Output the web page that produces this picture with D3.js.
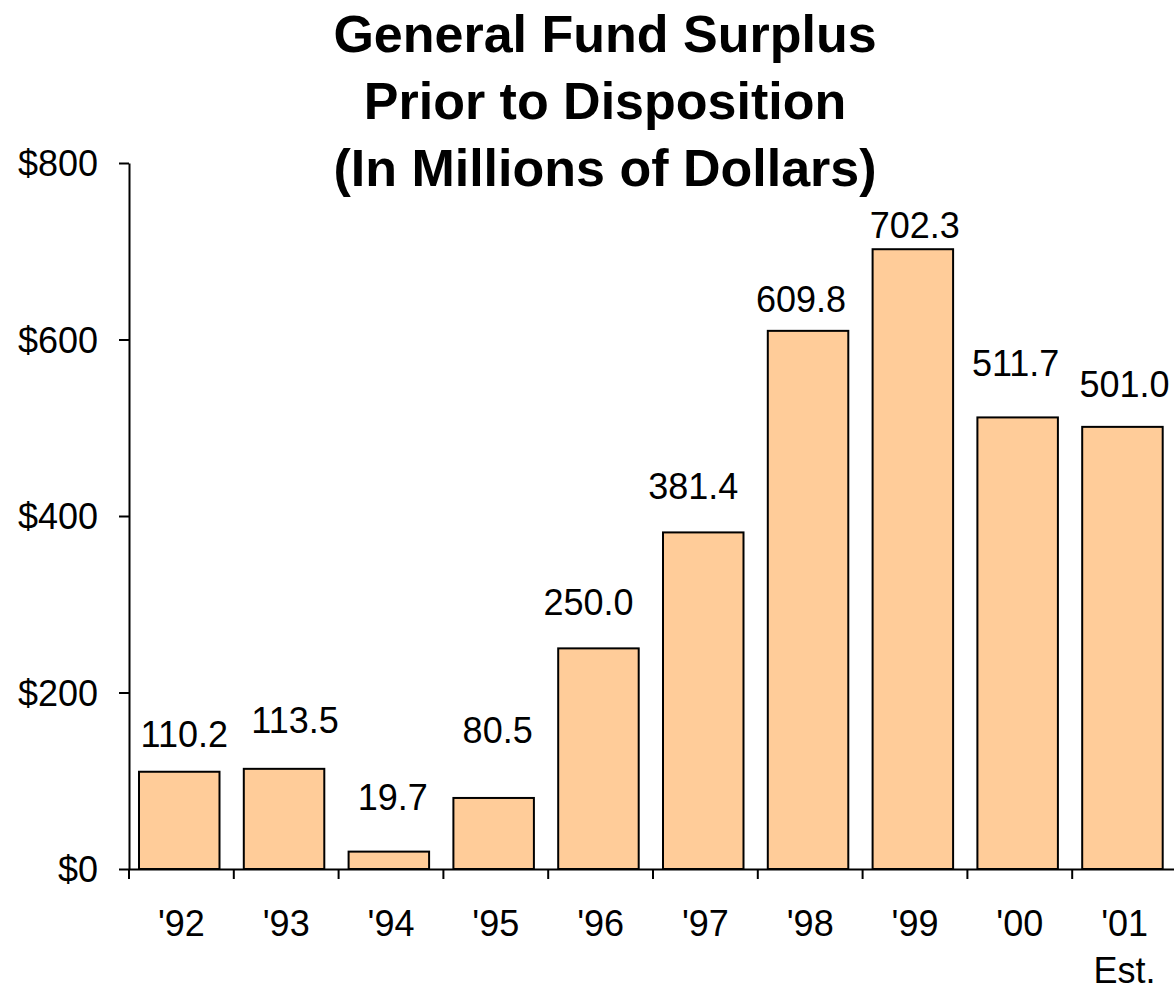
<!DOCTYPE html>
<html>
<head>
<meta charset="utf-8">
<script src="https://cdn.jsdelivr.net/npm/d3@7"></script>
<style>
  html, body { margin: 0; padding: 0; background: #fff; }
  svg { display: block; font-family: Arial, "Liberation Sans", sans-serif; }
</style>
</head>
<body>
<svg id="chart" width="1174" height="990"></svg>
<script>
// Fiscal years and the general fund surplus before disposition ($ millions)
const years = ["'92", "'93", "'94", "'95", "'96", "'97", "'98", "'99", "'00", "'01"];
const surplus = [110.2, 113.5, 19.7, 80.5, 250.0, 381.4, 609.8, 702.3, 511.7, 501.0];
const yearNotes = ["", "", "", "", "", "", "", "", "", "Est."];
const yTicks = [0, 200, 400, 600, 800];
const titleLines = ["General Fund Surplus", "Prior to Disposition", "(In Millions of Dollars)"];

// Hand placement of the value labels: [dx, dy] in pixels from the bar's top centre
const labelShift = [[5, -25], [11, -36], [4, -42], [4, -55], [-10, -33],
                    [-10, -33], [-7, -19], [2, -11], [-2, -41], [2, -30]];

const svg = d3.select("#chart");

const step = 104.8;
const x = d3.scaleBand().domain(years).range([129, 129 + step * years.length]).padding(0);
const y = d3.scaleLinear().domain([0, 800]).range([869, 163]);
const barInset = 10, barWidth = 80.5;

// Title
svg.append("g").selectAll("text")
  .data(titleLines)
  .join("text")
  .attr("x", 605)
  .attr("y", (d, i) => 52 + i * 67)
  .attr("text-anchor", "middle")
  .attr("font-size", 52)
  .attr("font-weight", "bold")
  .attr("fill", "#000")
  .text(d => d);

// Bars
svg.append("g").selectAll("rect")
  .data(surplus)
  .join("rect")
  .attr("x", (d, i) => x(years[i]) + barInset)
  .attr("y", d => y(d))
  .attr("width", barWidth)
  .attr("height", d => y(0) - y(d))
  .attr("fill", "#FFCC99")
  .attr("stroke", "#000")
  .attr("stroke-width", 2);

// Value labels
svg.append("g").selectAll("text")
  .data(surplus)
  .join("text")
  .attr("x", (d, i) => x(years[i]) + barInset + barWidth / 2 + labelShift[i][0])
  .attr("y", (d, i) => y(d) + labelShift[i][1])
  .attr("text-anchor", "middle")
  .attr("font-size", 36)
  .attr("fill", "#000")
  .text(d => d.toFixed(1));

// Y axis
const yAxis = svg.append("g")
  .attr("transform", "translate(129,0)")
  .call(d3.axisLeft(y).tickValues(yTicks).tickSize(10).tickSizeOuter(0)
    .tickPadding(21).tickFormat(d => "$" + d));
yAxis.select(".domain").attr("stroke", "#000").attr("stroke-width", 2);
yAxis.selectAll(".tick line").attr("stroke", "#000").attr("stroke-width", 2);
yAxis.selectAll(".tick text")
  .attr("font-size", 36)
  .attr("font-family", "Arial, 'Liberation Sans', sans-serif")
  .attr("fill", "#000")
  .attr("dy", "0.36em");

// X axis: category labels centred in each band, ticks on band boundaries
const xAxis = svg.append("g")
  .attr("transform", `translate(0,${y(0)})`)
  .call(d3.axisBottom(x).tickSize(0).tickSizeOuter(0).tickPadding(0));
xAxis.select(".domain").attr("stroke", "#000").attr("stroke-width", 2);
xAxis.selectAll(".tick text")
  .attr("font-size", 36)
  .attr("font-family", "Arial, 'Liberation Sans', sans-serif")
  .attr("fill", "#000")
  .attr("y", 0)
  .attr("dy", null)
  .each(function (d, i) {
    const t = d3.select(this).text(null);
    t.append("tspan").attr("x", 0).attr("y", 67).text(d);
    if (yearNotes[i]) t.append("tspan").attr("x", 0).attr("y", 114).text(yearNotes[i]);
  });

const boundaries = years.map(d => x(d)).concat([x.range()[1]]);
svg.append("g").selectAll("line")
  .data(boundaries)
  .join("line")
  .attr("x1", d => d).attr("x2", d => d)
  .attr("y1", y(0)).attr("y2", y(0) + 10)
  .attr("stroke", "#000")
  .attr("stroke-width", 2);
</script>
</body>
</html>
